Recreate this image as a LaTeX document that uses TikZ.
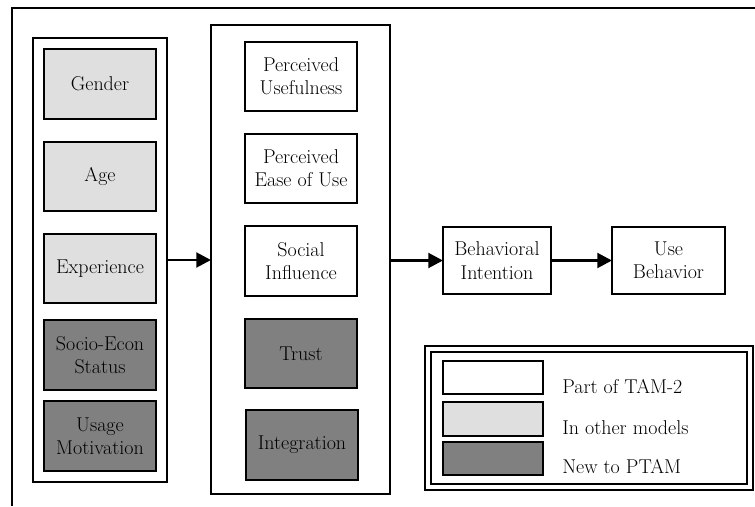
\documentclass[tikz,border=0pt]{standalone}
\usepackage{amsmath}
\usepackage{amssymb}
\usepackage{tikz}
\usetikzlibrary{arrows.meta}

\tikzset{
  factor/.style={draw, line width=1.4pt, inner sep=0.75pt, outer sep=0pt, align=center,
    minimum width=84pt, minimum height=52pt, font=\fontsize{15}{17.5}\selectfont},
  tamtwo/.style={factor, fill=white},
  othermod/.style={factor, fill=gray!25},
  newptam/.style={factor, fill=gray},
  group/.style={draw, line width=1.5pt, inner sep=0pt, outer sep=0pt},
  keybox/.style={draw, line width=1.4pt, minimum width=75pt, minimum height=25pt, inner sep=0pt},
  keytext/.style={anchor=west, inner sep=0.75pt, font=\fontsize{15}{17.5}\selectfont},
  flow/.style={line width=2.2pt, -{Triangle[length=11pt,width=11pt]}}
}

\begin{document}
\begin{tikzpicture}[x=0.75pt,y=0.75pt,yscale=-1,xscale=1]
    \useasboundingbox (0,0) rectangle (755,506);

    %Shape: outer frame (top and left only)
    \draw [line width=1.5pt] (12,506) -- (12,8) -- (755,8) ;

    %Shape: Rectangle - left group
    \node (leftgrp) [group, minimum width=100.5pt, minimum height=333pt] at (100,260) {};
    %Shape: Rectangle - middle group
    \node (midgrp) [group, minimum width=134.25pt, minimum height=351.75pt] at (300.5,259.5) {};

    % Left column
    \node (gender) [othermod] at (100,84) {Gender};
    \node (age) [othermod] at (100,176.5) {Age};
    \node (exper) [othermod] at (100,268.5) {Experience};
    \node (socio) [newptam] at (100,355) {Socio-Econ\\Status};
    \node (usage) [newptam] at (100,436) {Usage\\Motivation};

    % Middle column
    \node (pu) [tamtwo] at (301,76.5) {Perceived\\Usefulness};
    \node (peou) [tamtwo] at (301,168.5) {Perceived\\Ease of Use};
    \node (social) [tamtwo] at (301,261) {Social\\Influence};
    \node (trust) [newptam] at (301,353.5) {Trust};
    \node (integ) [newptam] at (302,445) {Integration};

    % Outcomes
    \node (bi) [tamtwo, minimum width=81pt, minimum height=50pt] at (497,260.5) {Behavioral\\Intention};
    \node (ub) [tamtwo, minimum width=84.75pt, minimum height=50pt] at (668.5,260.5) {Use\\Behavior};

    % Arrows
    \draw [flow] (leftgrp.east) -- (leftgrp.east -| midgrp.west) ;
    \draw [flow] (midgrp.east |- bi.west) -- (bi.west) ;
    \draw [flow] (bi.east) -- (ub.west) ;

    %Shape: legend frame
    \draw [line width=2.2pt] (425,346) rectangle (753,490) ;
    \draw [line width=1pt] (431,352) rectangle (747,484) ;

    % Legend keys
    \node (keytam) [keybox, fill=white] at (493,377.5) {};
    \node (keyother) [keybox, fill=gray!25] at (493,419) {};
    \node (keynew) [keybox, fill=gray] at (493,458.5) {};
    \node (txttam) [keytext] at (561,387) {Part of TAM-2};
    \node (txtother) [keytext] at (561,428) {In other models};
    \node (txtnew) [keytext] at (561,467) {New to PTAM};

\end{tikzpicture}
\end{document}
